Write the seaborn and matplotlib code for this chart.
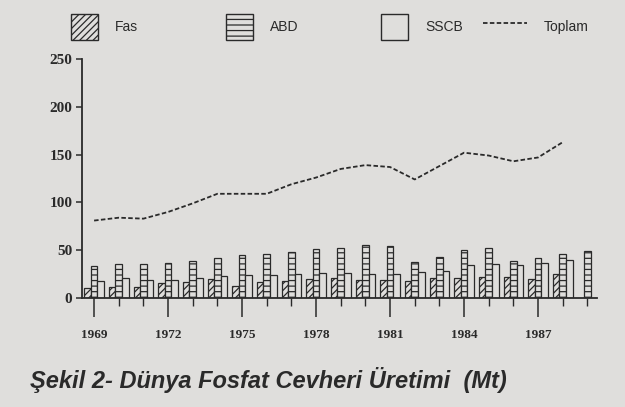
import numpy as np
import pandas as pd
import seaborn as sns
import matplotlib.pyplot as plt
import matplotlib.patches as mpatches
import matplotlib.lines as mlines

yillar = list(range(1969, 1990))
fas = [10, 11, 11.5, 16, 17, 20, 13, 17, 18, 20, 21, 19, 19, 18, 21, 21, 22, 22, 20, 25, np.nan]
abd = [33, 36, 36, 37, 39, 42, 45, 46, 48, 51, 52, 55, 54, 38, 43, 50, 52, 39, 42, 46, 49]
sscb = [18, 21, 19, 19, 21, 23, 24, 24, 25, 26, 26, 25, 25, 27, 28, 35, 36, 35, 37, 40, np.nan]
toplam = [81, 84, 83, 90, 99, 109, 109, 109, 119, 126, 135, 139, 137, 124, 138, 152, 149, 143, 147, 163, np.nan]
ulkeler = ["Fas", "ABD", "SSCB"]
etiket_yillar = ["1969", "1972", "1975", "1978", "1981", "1984", "1987"]

kagit = "#dfdedc"
murekkep = "#2a2a2a"

sns.set_style("white")
plt.rcParams["hatch.linewidth"] = 0.9
plt.rcParams["hatch.color"] = murekkep

df = pd.DataFrame({"yil": yillar * 3,
                   "ulke": ["Fas"] * len(yillar) + ["ABD"] * len(yillar) + ["SSCB"] * len(yillar),
                   "deger": fas + abd + sscb})

fig = plt.figure(figsize=(6.25, 4.07), dpi=100, facecolor=kagit)
ax = fig.add_axes([82 / 625, 109 / 407, 515 / 625, 239 / 407], facecolor=kagit)

sns.barplot(data=df, x="yil", y="deger", hue="ulke", hue_order=ulkeler,
            order=yillar, palette=[kagit] * 3, edgecolor=murekkep, linewidth=0.9,
            width=0.8, legend=False, ax=ax)

taramalar = {"Fas": "/////", "ABD": "---", "SSCB": ""}
for kap, ulke in zip(ax.containers, ulkeler):
    for p in kap:
        p.set_hatch(taramalar[ulke])

sns.lineplot(x=np.arange(len(yillar)), y=toplam, color=murekkep, linewidth=1.3,
             dashes=False, linestyle=(0, (2.5, 1.3)), ax=ax)

ax.set_xlim(-0.49, 20.39)
ax.set_ylim(0, 250)
ax.set_yticks([0, 50, 100, 150, 200, 250])
ax.set_yticklabels(["0", "50", "100", "150", "200", "250"],
                   family="Liberation Serif", fontweight="bold", fontsize=11, color=murekkep)
ana = [yillar.index(int(e)) for e in etiket_yillar]
ax.set_xticks(ana)
ax.set_xticklabels(etiket_yillar, family="Liberation Serif", fontweight="bold",
                   fontsize=9.5, color=murekkep)
ax.set_xticks(np.arange(len(yillar)), minor=True)
ax.tick_params(axis="x", which="major", direction="out", length=14, width=1.1,
               pad=8, color=murekkep, bottom=True)
ax.tick_params(axis="x", which="minor", direction="out", length=6, width=1.0,
               color=murekkep, bottom=True)
ax.tick_params(axis="y", direction="out", length=4, width=1.1, pad=3,
               color=murekkep, left=True)
ax.set_xlabel("")
ax.set_ylabel("")
for s in ["top", "right"]:
    ax.spines[s].set_visible(False)
for s in ["left", "bottom"]:
    ax.spines[s].set_color(murekkep)
    ax.spines[s].set_linewidth(1.3)

# lejant: dort ayri parca, resimdeki yerlerine
ogeler = [
    (mpatches.Patch(facecolor=kagit, edgecolor=murekkep, hatch="/////"), "Fas", 66),
    (mpatches.Patch(facecolor=kagit, edgecolor=murekkep, hatch="---"), "ABD", 221),
    (mpatches.Patch(facecolor=kagit, edgecolor=murekkep), "SSCB", 376),
    (mlines.Line2D([], [], color=murekkep, linewidth=1.3, linestyle=(0, (2.5, 1.3))), "Toplam", 478),
]
for tutamak, ad, x in ogeler:
    leg = fig.legend([tutamak], [ad], loc="center left",
                     bbox_to_anchor=((x - 8) / 625, 1 - 27 / 407),
                     frameon=False, handlelength=2.0 if ad != "Toplam" else 3.2,
                     handleheight=2.4, handletextpad=1.2,
                     prop={"family": "Liberation Sans", "size": 10})
    for t in leg.get_texts():
        t.set_color(murekkep)

fig.text(30 / 625, 1 - 380 / 407, "Şekil 2- Dünya Fosfat Cevheri Üretimi  (Mt)",
         family="Liberation Sans", fontweight="bold", fontstyle="italic",
         fontsize=17, color=murekkep, va="center", ha="left")

fig.savefig("out.png", dpi=100, facecolor=kagit)
